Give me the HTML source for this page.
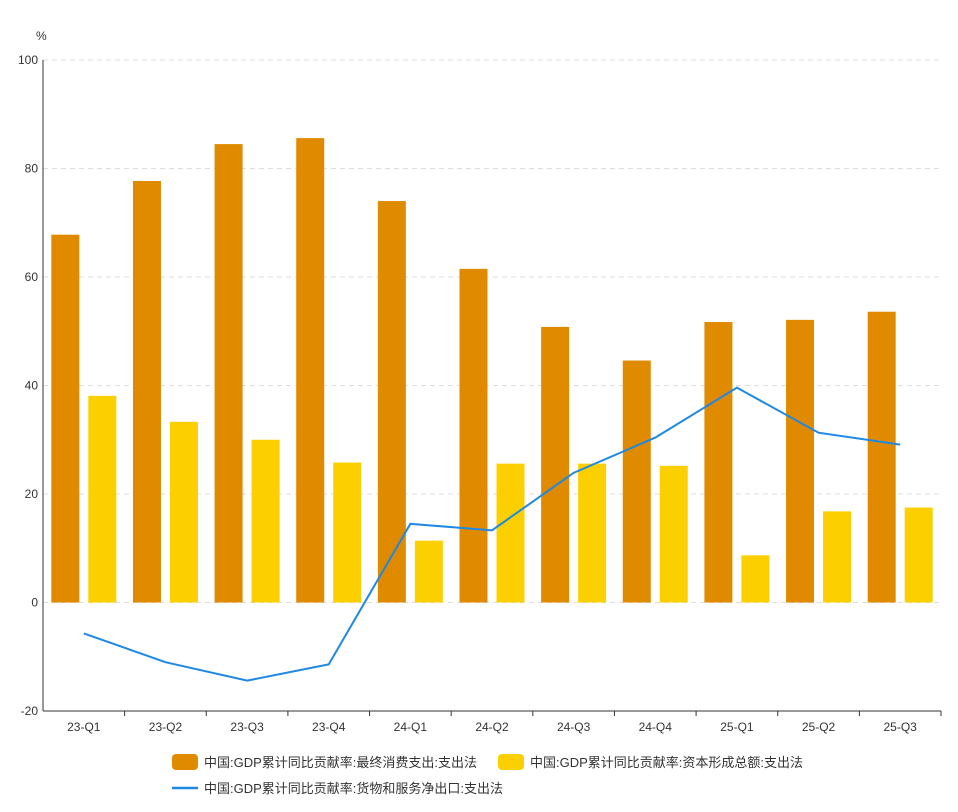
<!DOCTYPE html>
<html><head><meta charset="utf-8"><style>
body{margin:0;background:#fff;font-family:"Liberation Sans","Noto Sans CJK SC",sans-serif;}
svg text{font-family:"Liberation Sans","Noto Sans CJK SC",sans-serif;}
</style></head><body>
<svg id="chart" width="958" height="807" xmlns="http://www.w3.org/2000/svg">
<g id="grid"></g><g id="bars"></g><g id="line"></g><g id="axes"></g>
<g>
 <g><rect x="172" y="754" width="26" height="16" rx="4" fill="#E08A00"/><text x="204" y="767" font-size="13" fill="#333">中国:GDP累计同比贡献率:最终消费支出:支出法</text></g>
 <g><rect x="498" y="754" width="26" height="16" rx="4" fill="#FCD000"/><text x="530" y="767" font-size="13" fill="#333">中国:GDP累计同比贡献率:资本形成总额:支出法</text></g>
 <g><line x1="172" y1="788" x2="198" y2="788" stroke="#1E88E5" stroke-width="2.5"/><text x="204" y="793" font-size="13" fill="#333">中国:GDP累计同比贡献率:货物和服务净出口:支出法</text></g>
</g>
</svg>
<script>
const categories=["23-Q1","23-Q2","23-Q3","23-Q4","24-Q1","24-Q2","24-Q3","24-Q4","25-Q1","25-Q2","25-Q3"];
const consumption=[67.8,77.7,84.5,85.6,74.0,61.5,50.8,44.6,51.7,52.1,53.6];
const capital=[38.1,33.3,30.0,25.8,11.4,25.6,25.6,25.2,8.7,16.8,17.5];
const netExports=[-5.7,-11.0,-14.4,-11.4,14.5,13.3,23.9,30.4,39.6,31.3,29.1];
const yTicks=[-20,0,20,40,60,80,100];
const NS="http://www.w3.org/2000/svg";
const X0=43,X1=941,Y0=60,Ymin=-20,Ymax=100,YB=711;
const y=v=>Y0+(Ymax-v)/(Ymax-Ymin)*(YB-Y0);
const cw=(X1-X0)/categories.length;
const xc=i=>X0+cw*(i+0.5);
function mk(t,a,p){const e=document.createElementNS(NS,t);for(const k in a)e.setAttribute(k,a[k]);p.appendChild(e);return e;}
const grid=document.getElementById('grid'),bars=document.getElementById('bars'),ln=document.getElementById('line'),axes=document.getElementById('axes');
yTicks.forEach(v=>{
 if(v!==Ymin){const g=mk('line',{x1:X0,x2:X1,y1:y(v),y2:y(v),stroke:'#ddd','stroke-dasharray':'5,4'},grid);
 
 }
 const t=mk('text',{x:X0-5,y:y(v)+4,'text-anchor':'end','font-size':12,fill:'#333'},axes);t.textContent=v;
 
 
});
const u=mk('text',{x:36,y:40,'font-size':12,fill:'#333'},axes);u.textContent='%';


mk('line',{x1:X0,x2:X0,y1:Y0,y2:YB,stroke:'#333'},axes);
mk('line',{x1:X0,x2:X1,y1:YB,y2:YB,stroke:'#333'},axes);
const bw=28,gap=9;
categories.forEach((c,i)=>{
 const cx=xc(i);
 const r1=mk('rect',{x:cx-gap/2-bw,y:Math.min(y(consumption[i]),y(0)),width:bw,height:Math.abs(y(consumption[i])-y(0)),fill:'#E08A00'},bars);
 
 
 const r2=mk('rect',{x:cx+gap/2,y:Math.min(y(capital[i]),y(0)),width:bw,height:Math.abs(y(capital[i])-y(0)),fill:'#FCD000'},bars);
 
 
 mk('line',{x1:X0+cw*(i+1),x2:X0+cw*(i+1),y1:YB,y2:YB+5,stroke:'#333'},axes);
 const t=mk('text',{x:cx,y:YB+20,'text-anchor':'middle','font-size':12,fill:'#333'},axes);t.textContent=c;
 
 
});
const p=mk('polyline',{points:netExports.map((v,i)=>xc(i)+','+y(v)).join(' '),fill:'none',stroke:'#1E88E5','stroke-width':2},ln);


</script>
</body></html>
